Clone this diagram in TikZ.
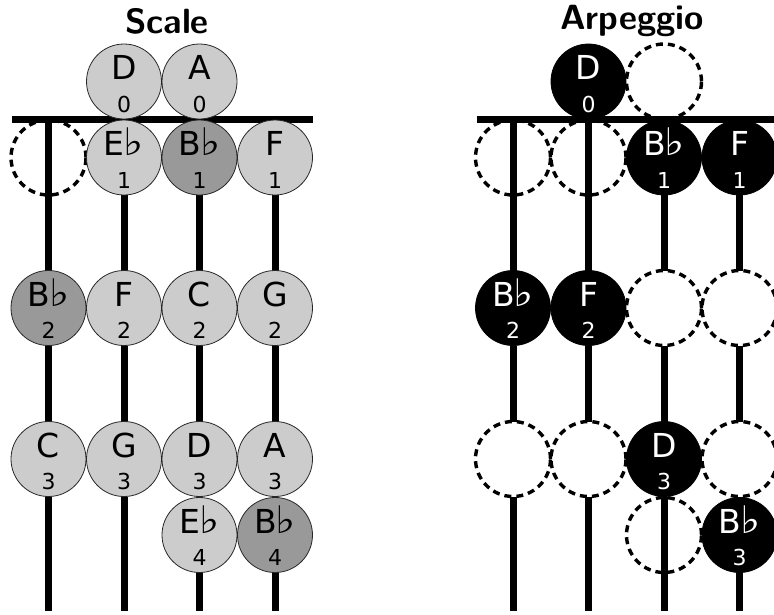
\documentclass[tikz,border=0pt]{standalone}
\usepackage{fontspec}
\newfontfamily\notefont{DejaVu Sans}
\usetikzlibrary{backgrounds}
\newcommand\flatsign{\kern-1pt\scalebox{1.3}[1.15]{♭}}
\tikzset{
  notebase/.style={circle, minimum size=75pt, inner sep=0pt, outer sep=0pt},
  lightnote/.style={notebase, fill=black!20, draw=black!85, line width=0.8pt},
  darknote/.style={notebase, fill=black!40, draw=black!85, line width=0.8pt},
  blacknote/.style={notebase, fill=black, draw=black, line width=0.8pt},
  emptynote/.style={notebase, draw=black, line width=3.4pt, dash pattern=on 7pt off 5pt},
  stringline/.style={line width=7pt},
  nutline/.style={line width=7pt},
  letterlbl/.style={font=\notefont\fontsize{33}{38}\selectfont, inner sep=0pt, anchor=base},
  digitlbl/.style={font=\notefont\fontsize{22}{26}\selectfont, inner sep=0pt, anchor=base},
  titlelbl/.style={font=\sffamily\bfseries\fontsize{35}{40}\selectfont, inner sep=0pt},
}
% #1 name, #2 x, #3 y, #4 style, #5 letter, #6 digit, #7 text colour
\newcommand\fretnote[7]{%
  \node[#4] (#1) at (#2,#3) {};
  \node[letterlbl, text=#7] (#1l) at ([yshift=2pt]#1.center) {#5};
  \node[digitlbl, text=#7] (#1d) at ([yshift=-30.5pt]#1.center) {#6};
}
\newcommand\emptyspot[3]{\node[emptynote] (#1) at (#2,#3) {};}
\begin{document}
\begin{tikzpicture}[x=1pt, y=-1pt]
\useasboundingbox (0,0) rectangle (774,614);
\clip (0,0) rectangle (774,614);

% titles
\node[titlelbl] (tscale) at (167,21) {Scale};
\node[titlelbl] (tarp) at (632,21) {Arpeggio};

% ---------- left: Scale ----------
\fretnote{LaD}{124}{81.5}{lightnote}{D}{0}{black}
\fretnote{LaA}{199.5}{81.5}{lightnote}{A}{0}{black}

\emptyspot{Lb1}{48.5}{157.5}
\fretnote{LbEb}{124}{157.5}{lightnote}{E\flatsign}{1}{black}
\fretnote{LbBb}{199.5}{157.5}{darknote}{B\flatsign}{1}{black}
\fretnote{LbF}{275}{157.5}{lightnote}{F}{1}{black}

\fretnote{LcBb}{48.5}{308}{darknote}{B\flatsign}{2}{black}
\fretnote{LcF}{124}{308}{lightnote}{F}{2}{black}
\fretnote{LcC}{199.5}{308}{lightnote}{C}{2}{black}
\fretnote{LcG}{275}{308}{lightnote}{G}{2}{black}

\fretnote{LdC}{48.5}{459}{lightnote}{C}{3}{black}
\fretnote{LdG}{124}{459}{lightnote}{G}{3}{black}
\fretnote{LdD}{199.5}{459}{lightnote}{D}{3}{black}
\fretnote{LdA}{275}{459}{lightnote}{A}{3}{black}

\fretnote{LeEb}{199.5}{535}{lightnote}{E\flatsign}{4}{black}
\fretnote{LeBb}{275}{535}{darknote}{B\flatsign}{4}{black}

% ---------- right: Arpeggio ----------
\fretnote{RaD}{588.5}{81.5}{blacknote}{D}{0}{white}
\emptyspot{Ra3}{664}{81.5}

\emptyspot{Rb1}{513}{157.5}
\emptyspot{Rb2}{588.5}{157.5}
\fretnote{RbBb}{664}{157.5}{blacknote}{B\flatsign}{1}{white}
\fretnote{RbF}{739.5}{157.5}{blacknote}{F}{1}{white}

\fretnote{RcBb}{513}{308}{blacknote}{B\flatsign}{2}{white}
\fretnote{RcF}{588.5}{308}{blacknote}{F}{2}{white}
\emptyspot{Rc3}{664}{308}
\emptyspot{Rc4}{739.5}{308}

\emptyspot{Rd1}{513}{459}
\emptyspot{Rd2}{588.5}{459}
\fretnote{RdD}{664}{459}{blacknote}{D}{3}{white}
\emptyspot{Rd4}{739.5}{459}

\emptyspot{Re3}{664}{535}
\fretnote{ReBb}{739.5}{535}{blacknote}{B\flatsign}{3}{white}

% ---------- strings and nuts (behind) ----------
\begin{pgfonlayer}{background}
  \coordinate (Lnl) at (12,119.5);   \coordinate (Lnr) at (313,119.5);
  \coordinate (Rnl) at (476.5,119.5); \coordinate (Rnr) at (777.5,119.5);
  \draw[nutline] (Lnl) -- (Lnr);
  \draw[nutline] (Rnl) -- (Rnr);
  % left strings
  \coordinate (Lt1) at (48.5,119.5);  \coordinate (Lz1) at (48.5,611);
  \coordinate (Lt2) at (124,119.5);   \coordinate (Lz2) at (124,611);
  \coordinate (Lt3) at (199.5,119.5); \coordinate (Lz3) at (199.5,611);
  \coordinate (Lt4) at (275,119.5);   \coordinate (Lz4) at (275,611);
  \draw[stringline] (Lt1) -- (LcBb); \draw[stringline] (LcBb) -- (LdC); \draw[stringline] (LdC) -- (Lz1);
  \draw[stringline] (Lt2) -- (LcF);  \draw[stringline] (LcF) -- (LdG);  \draw[stringline] (LdG) -- (Lz2);
  \draw[stringline] (Lt3) -- (LcC);  \draw[stringline] (LcC) -- (LdD);  \draw[stringline] (LdD) -- (Lz3);
  \draw[stringline] (Lt4) -- (LcG);  \draw[stringline] (LcG) -- (LdA);  \draw[stringline] (LdA) -- (Lz4);
  % right strings
  \coordinate (Rt1) at (513,119.5);   \coordinate (Rz1) at (513,611);
  \coordinate (Rt2) at (588.5,119.5); \coordinate (Rz2) at (588.5,611);
  \coordinate (Rt3) at (664,119.5);   \coordinate (Rz3) at (664,611);
  \coordinate (Rt4) at (739.5,119.5); \coordinate (Rz4) at (739.5,611);
  \draw[stringline] (Rt1) -- (RcBb); \draw[stringline] (RcBb) -- (Rd1); \draw[stringline] (Rd1) -- (Rz1);
  \draw[stringline] (Rt2) -- (RcF);  \draw[stringline] (RcF) -- (Rd2);  \draw[stringline] (Rd2) -- (Rz2);
  \draw[stringline] (Rt3) -- (Rc3);  \draw[stringline] (Rc3) -- (RdD);  \draw[stringline] (RdD) -- (Rz3);
  \draw[stringline] (Rt4) -- (Rc4);  \draw[stringline] (Rc4) -- (Rd4);  \draw[stringline] (Rd4) -- (Rz4);
\end{pgfonlayer}
\end{tikzpicture}
\end{document}
